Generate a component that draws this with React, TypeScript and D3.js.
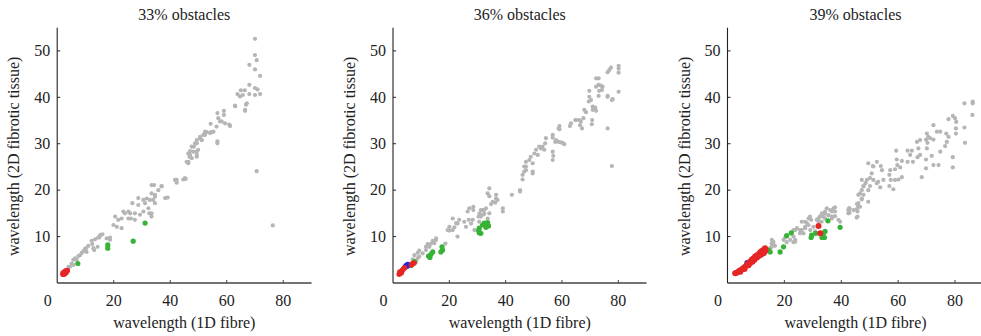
import React from "react";
import * as d3 from "d3";

type P = [number, number];

const titles = ["33% obstacles", "36% obstacles", "39% obstacles"];
const xTicks = [20, 40, 60, 80];
const yTicks = [10, 20, 30, 40, 50];
const xLabel = "wavelength (1D fibre)";
const yLabel = "wavelength (2D fibrotic tissue)";

const gray33: P[] = [
  [70.0,52.6],[70.0,49.1],[70.6,48.0],[68.0,47.0],[70.0,46.0],[71.8,44.6],[68.0,42.7],[70.0,42.0],[70.9,41.7],[70.0,40.5],[71.8,40.7],[68.0,40.7],[66.4,41.5],[65.0,41.5],[63.8,40.7],[65.7,40.5],[64.7,40.2],[67.1,38.7],[66.8,38.4],[63.0,38.1],[66.5,37.1],[62.9,38.2],[66.5,37.3],[59.0,37.1],[59.0,36.2],[56.7,36.6],[57.0,35.5],[57.6,34.8],[58.2,34.8],[59.4,34.4],[60.9,34.1],[61.2,33.8],[54.3,34.3],[56.4,33.7],[56.7,30.5],[56.7,30.1],[55.3,32.6],[54.1,32.4],[52.3,31.9],[50.6,31.5],[51.1,30.8],[49.4,30.1],[48.4,29.4],[48.2,28.3],[47.0,27.6],[49.4,27.6],[47.6,26.9],[46.4,26.1],[49.9,28.7],
  [49.4,30.8],[50.5,31.2],[51.7,31.9],[52.9,32.5],[54.1,32.3],[48.8,30.1],[47.6,29.4],[47.0,28.4],[46.4,27.9],[46.8,27.2],[45.8,26.1],[46.4,25.8],[49.4,28.3],[49.4,27.2],[51.2,30.8],[52.3,32.6],[54.7,32.5],
  [70.6,24.1],[76.3,12.4],[45.5,22.4],[42.3,22.2],[42.3,21.6],[45.2,22.6],[39.1,18.4],
  [44.6,22.3],[41.7,22.2],[38.2,18.3],[37.0,20.9],[35.8,20.0],[33.4,21.1],[34.3,21.1],[33.4,19.3],[34.6,19.0],[32.8,17.9],[34.0,17.9],[34.6,17.2],[31.1,17.2],[32.3,16.1],[33.4,15.0],[33.4,14.3],[30.5,15.4],[28.7,18.3],[28.7,16.8],[26.6,17.2],[27.5,15.0],[25.2,15.4],[24.0,15.0],[26.1,13.9],[22.8,13.9],[23.4,15.4],[20.5,14.3],[21.6,13.6],[19.9,12.5],[21.1,12.1],[22.8,11.8],[18.7,9.8],[18.7,9.3],[15.2,10.3],[14.5,9.8],[13.4,9.4],[12.2,9.1],[12.4,8.4],[14.3,7.8],[13.1,7.1],[9.8,7.3],[10.4,6.7],[8.7,6.5],[7.5,5.8],[6.3,5.3],[6.9,5.0],[5.1,4.2],[4.5,3.5],[30.5,17.9],[31.7,18.2],[32.6,15.0],[29.3,14.7],[27.5,13.6],[25.8,15.0],[25.2,13.9],[36.9,20.8],[34.6,18.6],[11.0,8.0],[9.2,6.8],[8.1,6.0],[5.7,5.0],[5.7,3.9],[4.0,3.5],[17.5,9.6],[15.4,10.3],[16.0,10.5],[14.9,9.8],[12.8,7.5],[10.2,7.5]
];
const green33: P[] = [[7.3,4.2],[17.9,8.2],[17.9,7.5],[26.9,9.0],[31.1,12.9]];
const red33: P[] = [[2.0,1.9],[2.2,2.0],[2.4,2.1],[2.6,2.2],[2.8,2.3],[3.0,2.4],[3.2,2.5],[3.4,2.6],[3.6,2.7],[2.3,1.9],[2.7,2.0],[3.1,2.2],[2.1,2.2],[2.9,2.6]];
const blue33: P[] = [];

const gray36: P[] = [
  [80.1,46.8],[80.1,46.2],[80.1,45.3],[77.4,46.4],[76.8,45.9],[76.2,45.4],[80.1,41.2],[78.0,39.6],[76.2,40.1],[76.2,33.3],[77.7,25.2],[72.1,44.1],[73.0,44.1],[73.0,42.7],[74.4,42.3],[74.2,41.6],[73.8,42.5],[72.1,42.3],[73.2,41.4],[73.0,40.3],[76.2,40.3],[77.7,39.4],[69.7,41.4],[69.7,40.1],[70.3,39.4],[69.5,39.1],[70.9,38.0],[71.8,37.8],[70.9,37.3],[72.1,37.1],[67.9,37.3],[68.5,36.8],[67.6,35.5],[65.0,35.1],[66.1,35.1],[66.7,34.8],[66.4,34.0],[67.1,33.3],[63.2,34.4],[62.8,33.8],[64.7,35.1],[70.7,35.1],[70.6,34.2],
  [59.1,33.8],[59.1,33.1],[58.8,33.3],[56.7,31.9],[56.7,31.3],[54.3,31.2],[57.6,30.4],[58.8,30.4],[60.2,30.2],[60.8,29.9],[59.6,30.3],[57.9,30.8],[54.0,30.1],[53.1,29.4],[51.9,29.4],[52.5,29.0],[53.7,28.7],[56.7,28.3],[56.9,27.4],[56.7,26.5],[50.8,28.7],[50.2,27.9],[51.4,27.6],[48.9,27.2],[48.4,26.5],[47.2,26.1],[49.6,25.8],[46.6,25.1],[47.2,25.1],[49.6,24.0],[49.6,23.6],[47.2,24.3],[46.0,23.3],[46.0,22.3],[46.6,24.0],
  [42.2,19.0],[45.1,20.0],[45.1,19.7],[34.2,20.4],[33.6,19.3],[34.2,18.7],[36.6,19.0],[36.6,18.2],[37.1,17.9],[36.3,17.3],[35.4,17.5],[34.8,17.0],[39.0,16.1],[39.0,15.4],[33.0,16.1],[32.4,15.7],[31.2,15.7],[30.7,15.0],[31.9,14.7],[34.2,15.0],[33.6,13.9],[31.8,15.7],[32.4,14.9],[31.2,14.3],[30.4,14.3],[30.6,13.2],[28.5,16.4],[28.5,15.7],[28.3,13.6],[27.1,16.1],[26.5,15.4],[27.7,12.8],[26.9,13.6],[25.3,13.2],[25.9,12.1],[28.9,11.4],[23.5,13.6],[22.9,12.8],[21.2,13.9],[21.8,12.0],[22.4,12.9],[20.0,12.1],[19.4,11.4],[20.0,11.3],[21.2,11.4],[22.9,10.0],[18.6,8.5],[15.3,9.6],[15.3,9.3],[14.1,9.1],[14.7,8.6],[13.5,8.5],[12.3,8.4],[12.9,7.8],[11.7,7.8],[11.7,7.1],[10.5,6.4],[9.3,7.0],[9.3,5.7],[8.8,6.5],[8.7,5.3],[7.6,6.0],[8.2,4.6],[7.0,5.1]
];
const green36: P[] = [[12.6,5.8],[13.5,6.2],[14.1,6.7],[13.1,5.5],[17.4,7.8],[17.6,7.1],[17.0,6.7],[30.6,11.8],[30.6,10.8],[31.2,10.7],[30.4,11.3],[32.4,12.9],[33.2,12.7],[33.9,12.3],[33.0,12.0],[31.8,12.5],[33.6,13.0],[7.6,4.6],[6.5,3.8]];
const blue36: P[] = [[4.6,3.7],[5.2,4.0],[4.3,3.4],[5.6,3.9],[5.0,3.6]];
const red36: P[] = [[2.2,1.9],[2.5,2.1],[2.8,2.3],[3.1,2.6],[3.4,2.8],[3.8,3.1],[4.1,3.3],[2.4,2.4],[3.0,2.2],[7.0,4.2],[6.5,3.9],[7.5,4.3]];

const gray39: P[] = [
  [86.2,39.1],[86.2,38.7],[83.3,38.7],[86.1,36.2],[79.2,36.0],[80.0,35.5],[77.7,35.3],[80.4,34.7],[72.4,34.0],[83.3,33.5],[80.3,33.3],[80.3,32.2],[73.6,32.6],[74.8,32.6],[76.9,32.2],[77.7,31.5],[70.1,32.2],[70.6,31.5],[69.8,30.9],[71.2,31.2],[72.4,30.9],[67.7,30.8],[66.6,30.4],[70.3,30.2],[77.1,30.4],[83.5,30.2],[76.5,29.5],[74.8,28.3],[70.1,29.0],[67.1,29.0],[64.8,28.5],[63.3,28.5],[59.3,28.5],[64.2,27.6],[67.7,27.6],[66.8,27.1],[71.8,27.4],[69.8,26.6],[79.2,27.1],[59.5,26.6],[61.3,26.3],[63.3,26.1],[65.2,26.1],[72.4,25.4],[74.2,25.4],[79.2,24.9],[69.8,24.7],[59.7,25.4],[58.9,24.5],[60.7,24.9],[68.3,22.8],
  [52.5,26.1],[51.1,25.2],[53.9,25.2],[54.3,24.3],[57.2,24.3],[56.9,23.3],[57.4,22.2],[58.9,22.2],[61.3,22.8],[60.1,22.3],[50.1,22.6],[49.0,22.2],[51.3,22.2],[54.8,22.2],[52.5,21.5],[47.8,20.9],[50.1,20.9],[53.7,20.6],[49.5,20.0],[47.2,20.0],[56.9,20.9],[58.3,20.2],[46.0,19.0],[47.8,19.0],[47.2,18.0],[45.5,17.0],[46.6,16.4],[49.5,17.5],[42.9,16.1],[42.9,15.1],[45.7,15.4],[45.7,14.3],[49.5,25.8],[51.3,25.1],[50.7,23.6],[53.0,21.8],[48.5,21.5],[47.2,22.2],[47.8,20.8],[46.6,19.3],[47.2,18.2],[46.0,17.2],[46.0,16.5],[45.5,15.9],[44.3,15.7],[42.5,15.7],[42.5,15.0],
  [42.7,16.1],[42.7,15.6],[45.4,14.1],[37.8,16.3],[37.8,15.4],[37.8,14.4],[36.1,15.7],[34.9,16.1],[34.3,15.0],[35.5,14.6],[36.7,13.9],[34.3,13.9],[32.5,14.3],[33.1,13.2],[32.0,13.2],[39.6,13.2],[39.0,13.6],[37.3,16.1],[36.7,15.4],[36.7,14.3],[35.5,14.6],[34.3,15.4],[33.7,14.3],[33.2,15.0],[32.6,14.3],[32.0,13.9],[31.4,13.6],[30.8,11.1],[30.2,12.1],[29.1,11.4],[28.5,12.5],[28.5,13.9],[27.3,13.2],[27.3,11.8],[26.7,10.7],[26.1,11.4],[25.5,10.7],[24.4,11.8],[23.2,11.4],[22.6,10.7],[23.8,9.3],[23.2,8.8],[22.0,9.3],[20.8,8.8],[20.3,9.8],[19.7,9.3],[29.0,14.3],[29.4,13.6],[27.9,12.9],[27.3,12.1],[26.1,13.2],[25.5,11.4],[23.8,11.4],[23.2,10.0],[23.8,8.9],[16.7,8.0],[16.1,8.9],[15.5,8.5],[15.6,9.3],[16.1,8.6],[15.6,7.8],[15.0,7.5]
];
const green39: P[] = [[14.4,7.1],[15.0,6.7],[18.5,6.7],[19.7,7.8],[20.8,10.2],[22.4,10.8],[29.4,9.8],[29.6,10.3],[31.0,10.7],[33.7,10.7],[34.1,9.8],[33.2,9.8],[34.3,11.1],[35.3,13.4],[39.6,12.0]];
const blue39: P[] = [[6.9,4.4]];
const red39: P[] = [[2.7,2.1],[3.2,2.2],[3.8,2.4],[4.3,2.7],[4.5,2.4],[5.0,2.9],[5.5,3.2],[6.0,3.0],[6.2,3.5],[6.7,3.8],[7.3,4.2],[7.4,3.8],[7.9,4.6],[8.0,4.3],[8.5,5.0],[8.8,4.6],[9.1,5.3],[9.5,5.0],[9.7,5.7],[10.3,5.9],[10.4,5.5],[10.9,6.2],[11.0,5.8],[11.5,6.6],[11.8,6.1],[12.1,6.9],[12.6,7.1],[13.2,7.5],[13.0,6.7],[13.4,7.0],[12.7,6.4],[32.0,12.3],[32.6,10.7]];

const panels = [
  { title: titles[0], x0: 57.2, x1: 311.5, gray: gray33, green: green33, blue: blue33, red: red33, rr: 2.7 },
  { title: titles[1], x0: 393.0, x1: 646.5, gray: gray36, green: green36, blue: blue36, red: red36, rr: 2.7 },
  { title: titles[2], x0: 727.5, x1: 983.5, gray: gray39, green: green39, blue: blue39, red: red39, rr: 3.0 },
];

const Y0 = 283;
const Y1 = 283 - 55 * 4.642;
const font = "'Liberation Serif', 'DejaVu Serif', serif";
const textColor = "#222";
const FS = 16;

function Panel({ p }: { p: (typeof panels)[number] }) {
  const x = d3.scaleLinear().domain([0, 90]).range([p.x0, p.x1]);
  const y = d3.scaleLinear().domain([0, 55]).range([Y0, Y1]);
  const cx = (p.x0 + p.x1) / 2;
  const dots = (arr: P[], fill: string, r: number, key: string) =>
    arr.map((d, i) => <circle key={key + i} cx={x(d[0])} cy={y(d[1])} r={r} fill={fill} />);
  return (
    <g>
      <text x={cx} y={20} textAnchor="middle" fontSize={FS} fontFamily={font} fill={textColor}>{p.title}</text>
      {dots(p.gray, "#b5b5b5", 2.1, "g")}
      {dots(p.green, "#36b336", 2.6, "n")}
      {dots(p.blue, "#2424dc", 2.7, "b")}
      {dots(p.red, "#e62626", p.rr, "r")}
      <line x1={x(0)} x2={x(0)} y1={y(55)} y2={y(0)} stroke="#222" strokeWidth={1.1} />
      <line x1={x(0)} x2={x(90)} y1={y(0)} y2={y(0)} stroke="#444" strokeWidth={1.6} />
      {xTicks.map((t) => (
        <g key={"xt" + t}>
          <line x1={x(t)} x2={x(t)} y1={y(0)} y2={y(0) - 3} stroke="#444" strokeWidth={1} />
          <text x={x(t)} y={306} textAnchor="middle" fontSize={FS} fontFamily={font} fill={textColor}>{t}</text>
        </g>
      ))}
      <text x={x(0) - 9.5} y={306} textAnchor="middle" fontSize={FS} fontFamily={font} fill={textColor}>0</text>
      {yTicks.map((t) => (
        <g key={"yt" + t}>
          <line x1={x(0)} x2={x(0) + 3} y1={y(t)} y2={y(t)} stroke="#222" strokeWidth={1} />
          <text x={x(0) - 7} y={y(t) + 5.3} textAnchor="end" fontSize={FS} fontFamily={font} fill={textColor}>{t}</text>
        </g>
      ))}
      <text x={cx} y={328} textAnchor="middle" fontSize={FS} fontFamily={font} fill={textColor}>{xLabel}</text>
      <text transform={`translate(${x(0) - 38},${(Y0 + Y1) / 2 + 1}) rotate(-90)`} textAnchor="middle" fontSize={FS} fontFamily={font} fill={textColor}>{yLabel}</text>
    </g>
  );
}

export default function App() {
  return (
    <svg width={981} height={336} style={{ position: "absolute", left: 0, top: 0, background: "#fff" }}>
      <rect width={981} height={336} fill="#fff" />
      {panels.map((p, i) => <Panel key={i} p={p} />)}
    </svg>
  );
}
